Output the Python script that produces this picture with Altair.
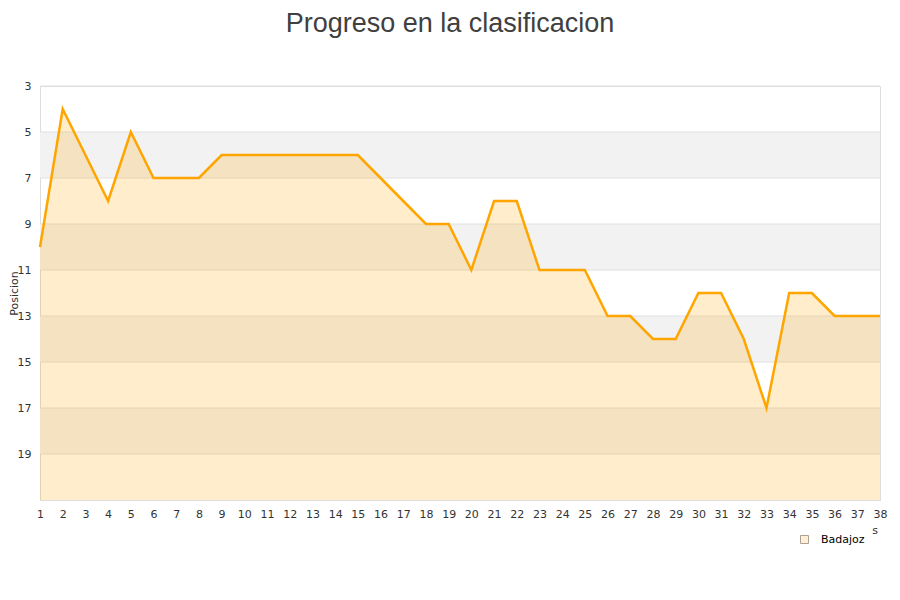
import altair as alt
import pandas as pd

jornadas = [1, 2, 3, 4, 5, 6, 7, 8, 9, 10, 11, 12, 13, 14, 15, 16, 17, 18, 19,
            20, 21, 22, 23, 24, 25, 26, 27, 28, 29, 30, 31, 32, 33, 34, 35, 36, 37, 38]
posiciones = [10, 4, 6, 8, 5, 7, 7, 7, 6, 6, 6, 6, 6, 6, 6, 7, 8, 9, 9,
              11, 8, 8, 11, 11, 11, 13, 13, 14, 14, 12, 12, 14, 17, 12, 12, 13, 13, 13]
equipo = "Badajoz"
y_ticks = [3, 5, 7, 9, 11, 13, 15, 17, 19]
band_start = [5, 9, 13, 17]
band_end = [7, 11, 15, 19]
y_min, y_max = 3, 21

W, H = 840, 414

df = pd.DataFrame({"jornada": jornadas, "posicion": posiciones,
                   "base": [y_max] * len(jornadas), "equipo": [equipo] * len(jornadas)})
bands = pd.DataFrame({"y0": band_start, "y1": band_end})
grid = pd.DataFrame({"y": y_ticks})

xscale = alt.Scale(domain=[1, 38], nice=False, zero=False)
yscale = alt.Scale(domain=[y_min, y_max], reverse=True, nice=False, zero=False)

xaxis = alt.Axis(values=jornadas, format="d", title=None, ticks=False, grid=False,
                 domain=False, labelPadding=8, labelFont="DejaVu Sans", labelFontSize=11,
                 labelColor="#333333", labelFlush=False, labelOverlap=False, labelBound=False)
yaxis = alt.Axis(values=y_ticks, format="d", title="Posicion", ticks=False, grid=False,
                 domain=False, labelPadding=9, labelFont="DejaVu Sans", labelFontSize=11,
                 labelColor="#333333", titleFont="DejaVu Sans", titleFontSize=11,
                 titleFontWeight="normal", titleColor="#333333", titleX=-21, titleY=H / 2,
                 labelOverlap=False)

X = alt.X("jornada:Q", scale=xscale, axis=xaxis)
Y = alt.Y("posicion:Q", scale=yscale, axis=yaxis)

band_layer = alt.Chart(bands).mark_rect(color="#f2f2f2").encode(
    y=alt.Y("y0:Q", scale=yscale, axis=yaxis),
    y2="y1:Q",
    x=alt.value(0),
    x2=alt.value(W),
)

grid_layer = alt.Chart(grid).mark_rule(color="#e0e0e0", strokeWidth=1).encode(
    y=alt.Y("y:Q", scale=yscale, axis=yaxis),
    x=alt.value(0),
    x2=alt.value(W),
)

area_layer = alt.Chart(df).mark_area(color="#FFA500", fillOpacity=0.2, interpolate="linear").encode(
    x=X, y=Y, y2="base:Q",
)

line_layer = alt.Chart(df).mark_line(color="#FFA500", strokeWidth=2.5).encode(x=X, y=Y)

legend_layer = alt.Chart(df).mark_square(size=0, filled=True).encode(
    x=X, y=Y,
    color=alt.Color("equipo:N", scale=alt.Scale(range=["#FFE9C2"]),
                    legend=alt.Legend(title=None, orient="none", legendX=759, legendY=448,
                                      symbolType="square", symbolSize=64,
                                      symbolStrokeColor="#8a7a66", symbolStrokeWidth=1,
                                      labelFont="DejaVu Sans", labelFontSize=11,
                                      labelColor="#000000", labelOffset=11, padding=0)),
)

s_layer = alt.Chart(pd.DataFrame({"t": ["s"]})).mark_text(
    font="DejaVu Sans", fontSize=11, color="#333333", baseline="middle", align="center"
).encode(x=alt.value(835), y=alt.value(445), text="t:N")

chart = alt.layer(band_layer, grid_layer, area_layer, line_layer, legend_layer, s_layer).properties(
    width=W,
    height=H,
    autosize=alt.AutoSizeParams(type="none"),
    padding={"left": 32, "top": 78, "right": 12, "bottom": 92},
    title=alt.TitleParams("Progreso en la clasificacion", anchor="middle", dx=-10, offset=21,
                          baseline="alphabetic", font="Liberation Sans", fontSize=27,
                          fontWeight="normal", color="#404040"),
).configure_view(stroke="#d9d9d9", strokeWidth=1).configure_axisX(
    labelOverlap=False, labelFlush=False
).configure(background="white")

chart.save("out.html", embed_options={"renderer": "svg", "actions": False})
